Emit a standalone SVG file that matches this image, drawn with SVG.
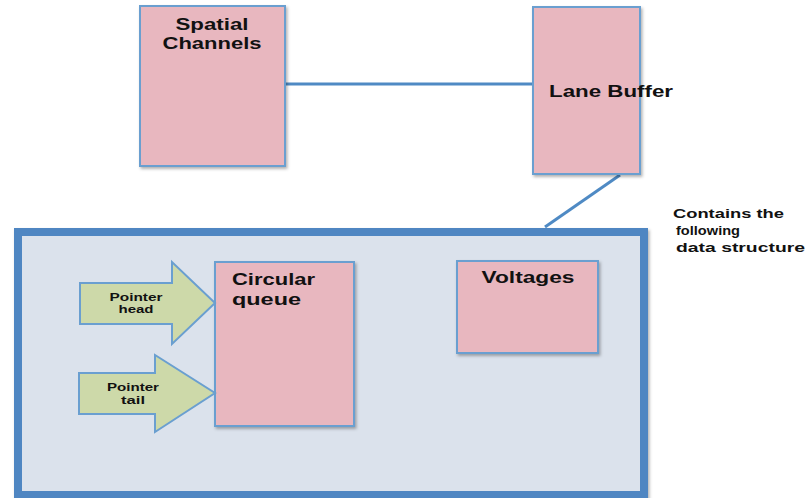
<svg xmlns="http://www.w3.org/2000/svg" width="809" height="498" viewBox="0 0 809 498">
<defs>
<filter id="sh" x="-10%" y="-10%" width="125%" height="125%">
<feDropShadow dx="1.5" dy="2" stdDeviation="1.5" flood-color="#000" flood-opacity="0.3"/>
</filter>
</defs>
<style>
.box{fill:#e8b7bf;stroke:#6a9fd0;stroke-width:2;filter:url(#sh)}
.arr{fill:#cdd9a9;stroke:#6a9fd0;stroke-width:2}
.lbl{font-family:"Liberation Sans",Arial,sans-serif;font-weight:bold;fill:#111}
.big{font-size:16px}
.sm{font-size:10.5px}
.note{font-size:13.5px}
.conn{stroke:#4f8ac4;stroke-width:3;fill:none}
</style>
<rect x="0" y="0" width="809" height="498" fill="#ffffff"/>
<g id="connectors">
<line class="conn" x1="285" y1="84" x2="533" y2="84"/>
<line class="conn" x1="620" y1="175" x2="545" y2="227"/>
<line class="conn" x1="354" y1="308" x2="457" y2="308"/>
</g>
<g id="container">
<rect x="18" y="232" width="626" height="263" fill="#dbe2ec" stroke="#4f86c2" stroke-width="8" filter="url(#sh)"/>
</g>
<g id="spatial-channels">
<rect class="box" x="140" y="6" width="145" height="160"/>
<text class="lbl big" x="212" y="30" text-anchor="middle" textLength="73" lengthAdjust="spacingAndGlyphs">Spatial</text>
<text class="lbl big" x="212" y="49" text-anchor="middle" textLength="99" lengthAdjust="spacingAndGlyphs">Channels</text>
</g>
<g id="lane-buffer">
<rect class="box" x="533" y="7" width="107" height="167"/>
<text class="lbl big" x="549" y="97" textLength="124" lengthAdjust="spacingAndGlyphs">Lane Buffer</text>
</g>
<g id="note">
<text class="lbl note" x="673" y="218" textLength="111" lengthAdjust="spacingAndGlyphs">Contains the</text>
<text class="lbl note" x="676" y="235" textLength="64" lengthAdjust="spacingAndGlyphs">following</text>
<text class="lbl note" x="676" y="252" textLength="129" lengthAdjust="spacingAndGlyphs">data structure</text>
</g>
<g id="circular-queue">
<rect class="box" x="215" y="262" width="139" height="164"/>
<text class="lbl big" x="232" y="285" textLength="83" lengthAdjust="spacingAndGlyphs">Circular</text>
<text class="lbl big" x="232" y="305" textLength="69" lengthAdjust="spacingAndGlyphs">queue</text>
</g>
<g id="voltages">
<rect class="box" x="457" y="261" width="141" height="92"/>
<text class="lbl big" x="528" y="283" text-anchor="middle" textLength="93" lengthAdjust="spacingAndGlyphs">Voltages</text>
</g>
<g id="pointer-head">
<polygon class="arr" points="80,283 172,283 172,262 215,303 172,344 172,324 80,324"/>
<text class="lbl sm" x="136" y="301" text-anchor="middle" textLength="53" lengthAdjust="spacingAndGlyphs">Pointer</text>
<text class="lbl sm" x="136" y="313" text-anchor="middle" textLength="35" lengthAdjust="spacingAndGlyphs">head</text>
</g>
<g id="pointer-tail">
<polygon class="arr" points="79,373 155,373 155,355 215,393 155,432 155,414 79,414"/>
<text class="lbl sm" x="133" y="391" text-anchor="middle" textLength="52" lengthAdjust="spacingAndGlyphs">Pointer</text>
<text class="lbl sm" x="133" y="404" text-anchor="middle" textLength="24" lengthAdjust="spacingAndGlyphs">tail</text>
</g>
</svg>
